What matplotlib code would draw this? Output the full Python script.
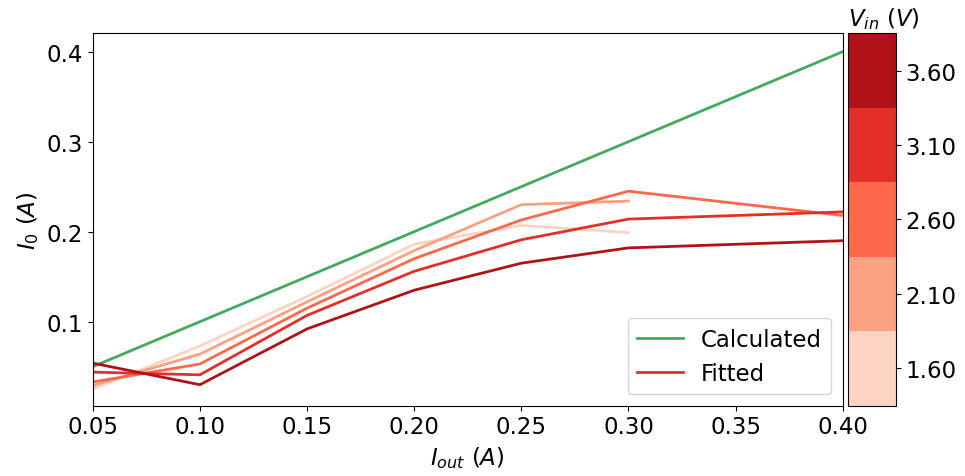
import numpy as np
import matplotlib
matplotlib.use('Agg')
import matplotlib.pyplot as plt
from matplotlib.colors import ListedColormap, BoundaryNorm
from matplotlib.lines import Line2D

# Données
i_out = [0.05, 0.10, 0.15, 0.20, 0.25, 0.30, 0.40]
v_in = [1.6, 2.1, 2.6, 3.1, 3.6]

i0_16 = [0.025, 0.073, 0.128, 0.186, 0.207, 0.199]
i0_21 = [0.029, 0.064, 0.122, 0.179, 0.230, 0.234]
i0_26 = [0.033, 0.053, 0.115, 0.170, 0.213, 0.245, 0.218]
i0_31 = [0.044, 0.041, 0.107, 0.156, 0.191, 0.214, 0.222]
i0_36 = [0.054, 0.030, 0.092, 0.135, 0.165, 0.182, 0.190]
fitted = [i0_16, i0_21, i0_26, i0_31, i0_36]

calc = [0.05, 0.40]  # I0 = Iout
calc_x = [0.05, 0.40]

plt.rcParams['font.size'] = 16.5

cmap = ListedColormap(plt.cm.Reds(np.linspace(0, 1, 7)[1:-1]))
bounds = np.arange(1.35, 3.86, 0.5)
norm = BoundaryNorm(bounds, cmap.N)

fig = plt.figure(figsize=(9.65, 4.77), dpi=100)
ax = fig.add_axes([0.0961, 0.1474, 0.7772, 0.7807])
cax = fig.add_axes([0.8788, 0.1474, 0.0497, 0.7807])

ax.plot(calc_x, calc, color='#41ab5d', lw=2)
for v, y in zip(v_in, fitted):
    ax.plot(i_out[:len(y)], y, color=cmap(norm(v)), lw=2)

ax.set_xlim(0.05, 0.40)
ax.set_ylim(0.0067, 0.4204)
ax.set_xticks([0.05, 0.10, 0.15, 0.20, 0.25, 0.30, 0.35, 0.40])
ax.set_xticklabels(['%.2f' % t for t in ax.get_xticks()])
ax.set_yticks([0.1, 0.2, 0.3, 0.4])
ax.set_xlabel(r'$I_{out}\ (A)$')
ax.set_ylabel(r'$I_0\ (A)$')

handles = [Line2D([], [], color='#41ab5d', lw=2),
           Line2D([], [], color=cmap(norm(3.1)), lw=2)]
ax.legend(handles, ['Calculated', 'Fitted'], loc='lower right')

sm = plt.cm.ScalarMappable(cmap=cmap, norm=norm)
cb = fig.colorbar(sm, cax=cax, ticks=v_in, format='%.2f')
cb.minorticks_off()
cax.set_title(r'$V_{in}\ (V)$', fontsize=16.5, loc='left')

fig.savefig('out.png', dpi=100)
